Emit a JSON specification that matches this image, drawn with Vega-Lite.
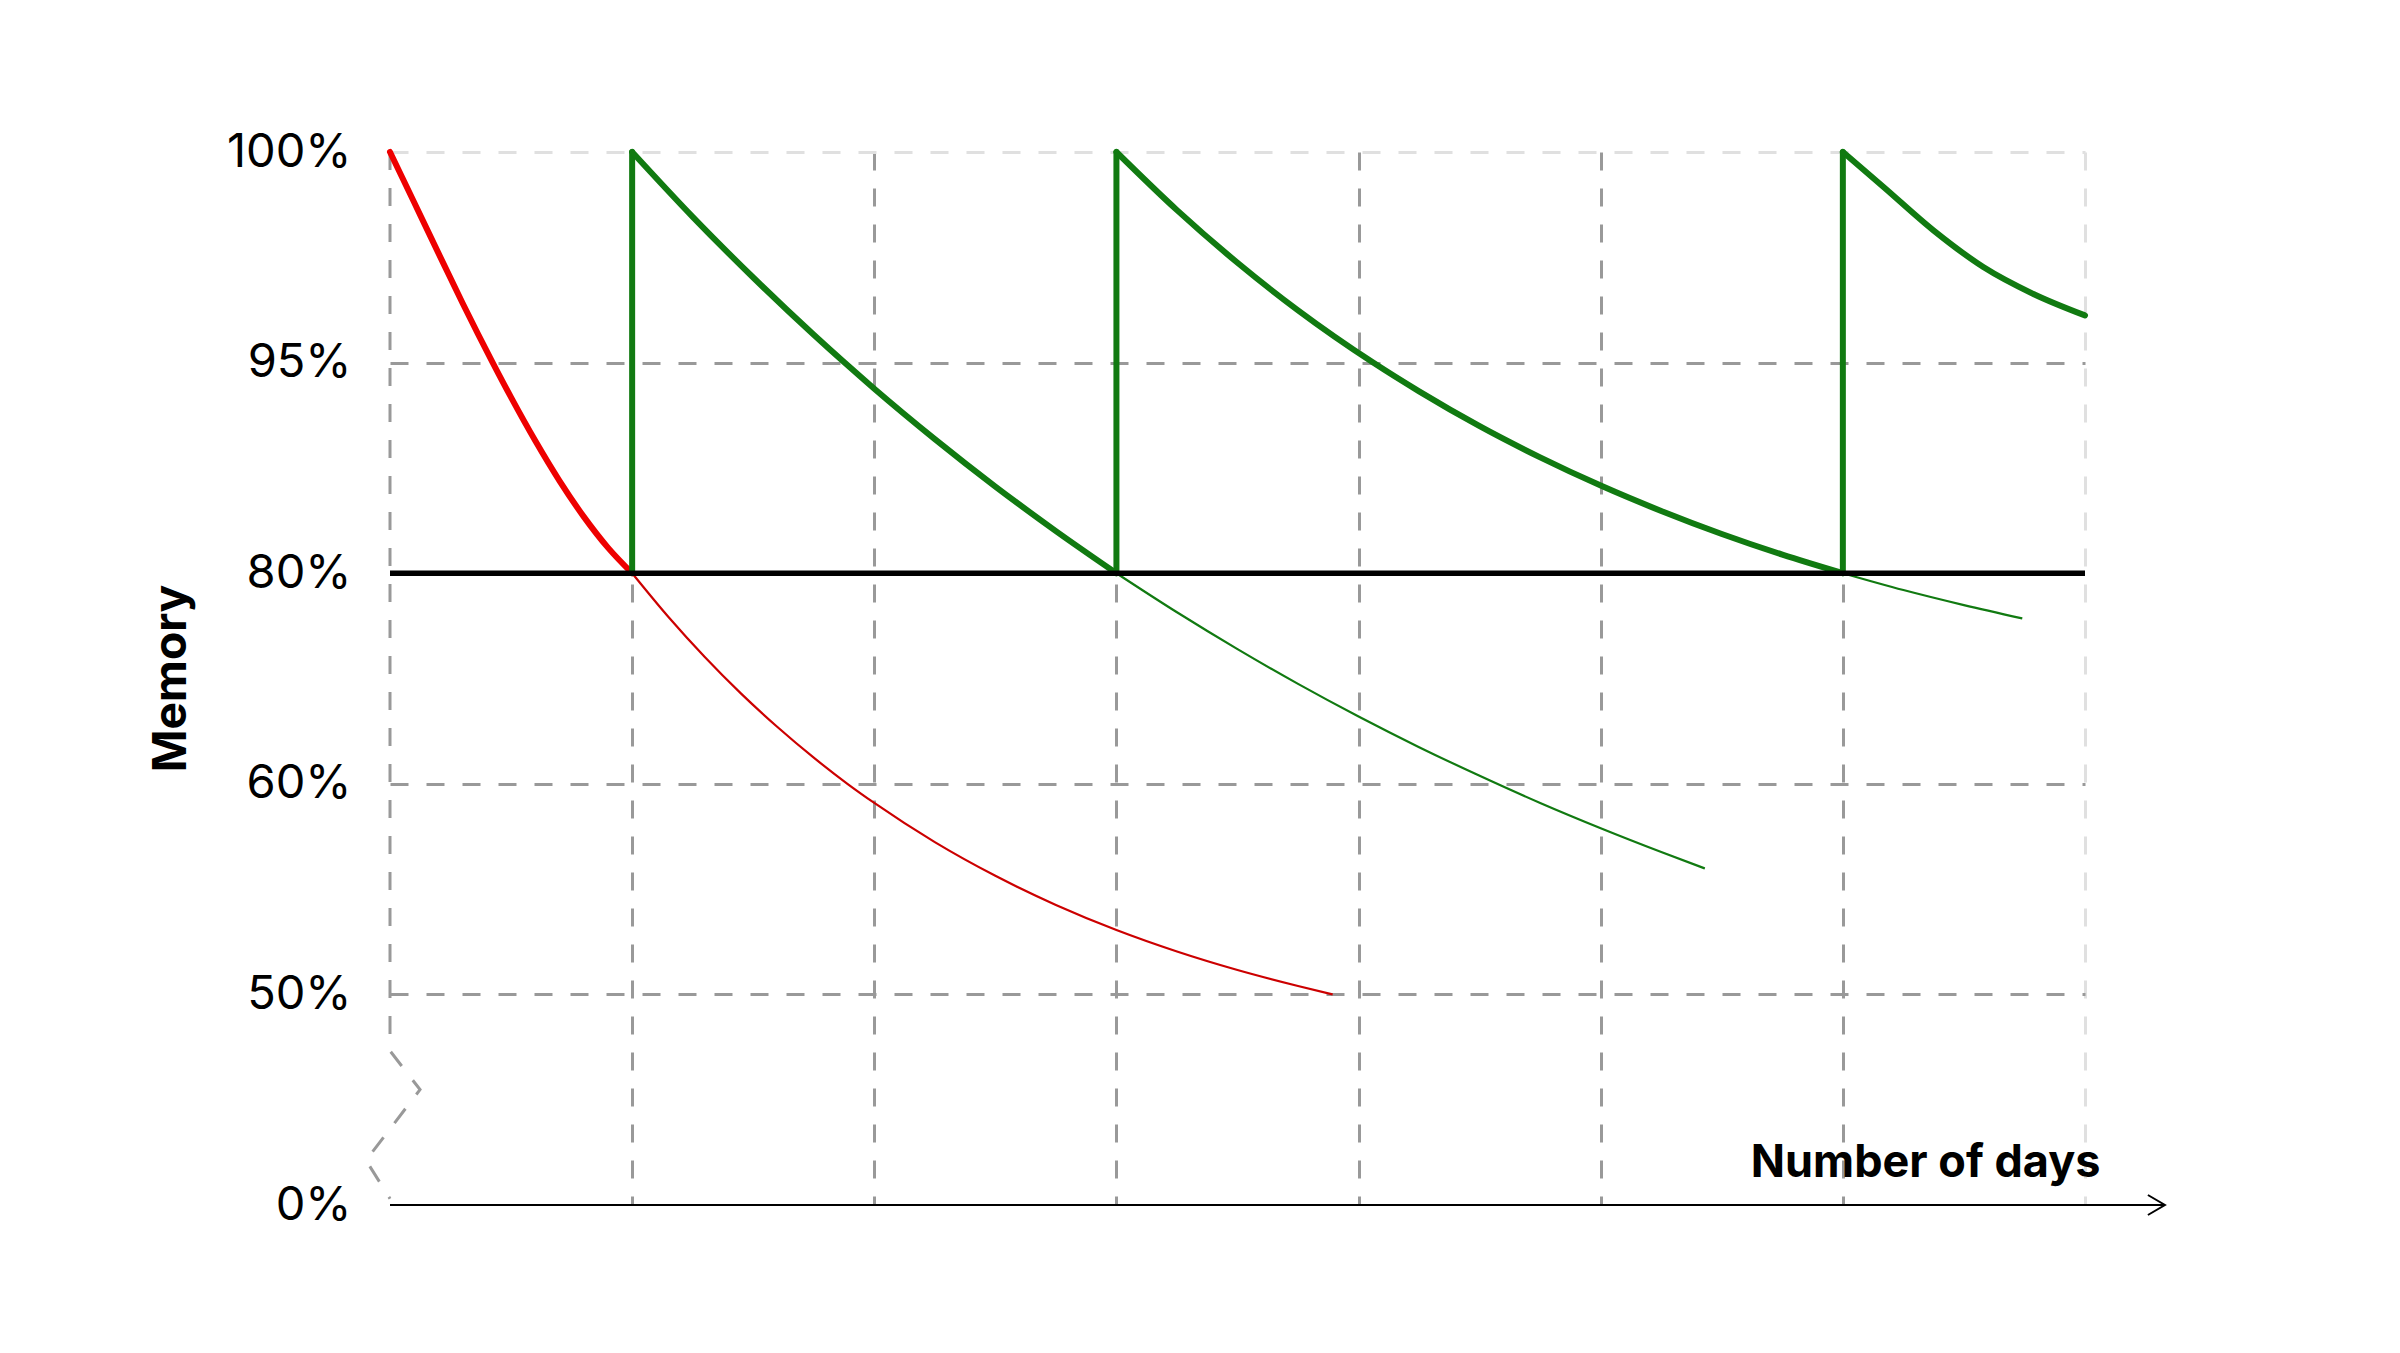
{
  "$schema": "https://vega.github.io/schema/vega-lite/v6.json",
  "width": 1695,
  "height": 1053,
  "autosize": {"type": "none"},
  "padding": {"left": 390, "top": 152, "right": 315, "bottom": 148},
  "background": "white",
  "config": {"view": {"stroke": null}},
  "datasets": {
    "curves": [
      {"path": "no-review", "step": 1, "day": 0, "memory": 100},
      {"path": "no-review", "step": 2, "day": 0.1, "memory": 98.8},
      {"path": "no-review", "step": 3, "day": 0.2, "memory": 97.6},
      {"path": "no-review", "step": 4, "day": 0.3, "memory": 96.41},
      {"path": "no-review", "step": 5, "day": 0.424, "memory": 95},
      {"path": "no-review", "step": 6, "day": 0.5, "memory": 92.52},
      {"path": "no-review", "step": 7, "day": 0.6, "memory": 89.43},
      {"path": "no-review", "step": 8, "day": 0.7, "memory": 86.58},
      {"path": "no-review", "step": 9, "day": 0.8, "memory": 84.03},
      {"path": "no-review", "step": 10, "day": 0.9, "memory": 81.82},
      {"path": "no-review", "step": 11, "day": 1, "memory": 80},
      {"path": "no-review-tail", "step": 1, "day": 1, "memory": 80},
      {"path": "no-review-tail", "step": 2, "day": 1.15, "memory": 75.84},
      {"path": "no-review-tail", "step": 3, "day": 1.3, "memory": 72.04},
      {"path": "no-review-tail", "step": 4, "day": 1.45, "memory": 68.56},
      {"path": "no-review-tail", "step": 5, "day": 1.6, "memory": 65.39},
      {"path": "no-review-tail", "step": 6, "day": 1.75, "memory": 62.48},
      {"path": "no-review-tail", "step": 7, "day": 1.889, "memory": 60},
      {"path": "no-review-tail", "step": 8, "day": 2.0, "memory": 59.09},
      {"path": "no-review-tail", "step": 9, "day": 2.25, "memory": 57.23},
      {"path": "no-review-tail", "step": 10, "day": 2.5, "memory": 55.63},
      {"path": "no-review-tail", "step": 11, "day": 2.75, "memory": 54.25},
      {"path": "no-review-tail", "step": 12, "day": 3.0, "memory": 53.06},
      {"path": "no-review-tail", "step": 13, "day": 3.25, "memory": 52.04},
      {"path": "no-review-tail", "step": 14, "day": 3.5, "memory": 51.16},
      {"path": "no-review-tail", "step": 15, "day": 3.75, "memory": 50.4},
      {"path": "no-review-tail", "step": 16, "day": 3.893, "memory": 50},
      {"path": "review-1", "step": 1, "day": 1, "memory": 100},
      {"path": "review-1", "step": 2, "day": 1.25, "memory": 98.46},
      {"path": "review-1", "step": 3, "day": 1.5, "memory": 97.02},
      {"path": "review-1", "step": 4, "day": 1.75, "memory": 95.66},
      {"path": "review-1", "step": 5, "day": 1.877, "memory": 95},
      {"path": "review-1", "step": 6, "day": 2.0, "memory": 93.14},
      {"path": "review-1", "step": 7, "day": 2.25, "memory": 89.55},
      {"path": "review-1", "step": 8, "day": 2.5, "memory": 86.17},
      {"path": "review-1", "step": 9, "day": 2.75, "memory": 83.0},
      {"path": "review-1", "step": 10, "day": 3, "memory": 80},
      {"path": "review-2", "step": 1, "day": 3, "memory": 100},
      {"path": "review-2", "step": 2, "day": 3.25, "memory": 98.62},
      {"path": "review-2", "step": 3, "day": 3.5, "memory": 97.37},
      {"path": "review-2", "step": 4, "day": 3.75, "memory": 96.24},
      {"path": "review-2", "step": 5, "day": 4.06, "memory": 95},
      {"path": "review-2", "step": 6, "day": 4.25, "memory": 92.95},
      {"path": "review-2", "step": 7, "day": 4.5, "memory": 90.47},
      {"path": "review-2", "step": 8, "day": 4.75, "memory": 88.25},
      {"path": "review-2", "step": 9, "day": 5.0, "memory": 86.24},
      {"path": "review-2", "step": 10, "day": 5.25, "memory": 84.43},
      {"path": "review-2", "step": 11, "day": 5.5, "memory": 82.79},
      {"path": "review-2", "step": 12, "day": 5.75, "memory": 81.32},
      {"path": "review-2", "step": 13, "day": 6, "memory": 80},
      {"path": "review-3", "step": 1, "day": 6, "memory": 100},
      {"path": "review-3", "step": 2, "day": 6.168, "memory": 99.17},
      {"path": "review-3", "step": 3, "day": 6.374, "memory": 98.14},
      {"path": "review-3", "step": 4, "day": 6.58, "memory": 97.27},
      {"path": "review-3", "step": 5, "day": 6.787, "memory": 96.63},
      {"path": "review-3", "step": 6, "day": 7, "memory": 96.12},
      {"path": "review-tail-1", "step": 1, "day": 3, "memory": 80},
      {"path": "review-tail-1", "step": 2, "day": 3.25, "memory": 76.29},
      {"path": "review-tail-1", "step": 3, "day": 3.5, "memory": 72.79},
      {"path": "review-tail-1", "step": 4, "day": 3.75, "memory": 69.49},
      {"path": "review-tail-1", "step": 5, "day": 4.0, "memory": 66.39},
      {"path": "review-tail-1", "step": 6, "day": 4.25, "memory": 63.48},
      {"path": "review-tail-1", "step": 7, "day": 4.5, "memory": 60.76},
      {"path": "review-tail-1", "step": 8, "day": 4.75, "memory": 59.09},
      {"path": "review-tail-1", "step": 9, "day": 5.0, "memory": 57.89},
      {"path": "review-tail-1", "step": 10, "day": 5.25, "memory": 56.76},
      {"path": "review-tail-1", "step": 11, "day": 5.43, "memory": 55.98},
      {"path": "review-tail-2", "step": 1, "day": 6, "memory": 80},
      {"path": "review-tail-2", "step": 2, "day": 6.25, "memory": 78.4},
      {"path": "review-tail-2", "step": 3, "day": 6.5, "memory": 76.97},
      {"path": "review-tail-2", "step": 4, "day": 6.741, "memory": 75.71}
    ],
    "reviews": [
      {"day": 1, "memory": 80, "memory_end": 100},
      {"day": 3, "memory": 80, "memory_end": 100},
      {"day": 6, "memory": 80, "memory_end": 100}
    ],
    "axisBreak": [
      {"step": 1, "day": 0, "memory": 100},
      {"step": 2, "day": 0, "memory": 36.6},
      {"step": 3, "day": 0.124, "memory": 27.4},
      {"step": 4, "day": -0.099, "memory": 10.6},
      {"step": 5, "day": 0, "memory": 1.5}
    ],
    "guides": [
      {"name": "threshold", "day": 0, "day_end": 7, "memory": 80},
      {"name": "x-axis", "day": 0, "day_end": 7.33, "memory": 0},
      {"name": "arrow", "day": 7.33, "memory": 0}
    ]
  },
  "encoding": {
    "x": {
      "field": "day",
      "type": "quantitative",
      "scale": {"domain": [0, 7], "nice": false, "zero": false},
      "axis": {
        "values": [0, 1, 2, 3, 4, 5, 6, 7],
        "labels": false,
        "ticks": false,
        "domain": false,
        "grid": true,
        "gridDash": [18, 18],
        "gridWidth": 3,
        "gridColor": {"condition": {"test": "datum.value === 7", "value": "#e0e0e0"}, "value": "#999999"},
        "gridOpacity": {"condition": {"test": "datum.value === 0", "value": 0}, "value": 1},
        "title": "Number of days",
        "titleFont": "Inter",
        "titleFontSize": 45,
        "titleFontWeight": "bold",
        "titleColor": "#000000",
        "titleAlign": "right",
        "titleBaseline": "alphabetic",
        "titleX": 1710,
        "titleY": -29
      }
    },
    "y": {
      "field": "memory",
      "type": "quantitative",
      "scale": {
        "domain": [0, 50, 60, 80, 95, 100],
        "range": [1053, 842.4, 631.8, 421.2, 210.6, 0],
        "nice": false,
        "zero": false
      },
      "axis": {
        "values": [0, 50, 60, 80, 95, 100],
        "labelExpr": "datum.value + '%'",
        "ticks": false,
        "domain": false,
        "labelPadding": 39,
        "labelFont": "Inter",
        "labelFontSize": 47,
        "labelColor": "#000000",
        "grid": true,
        "gridDash": [18, 18],
        "gridWidth": 3,
        "gridColor": {"condition": {"test": "datum.value === 100", "value": "#e0e0e0"}, "value": "#999999"},
        "gridOpacity": {"condition": {"test": "datum.value === 0 || datum.value === 80", "value": 0}, "value": 1},
        "title": "Memory",
        "titleFont": "Inter",
        "titleFontSize": 46,
        "titleFontWeight": "bold",
        "titleColor": "#000000",
        "titleAngle": 270,
        "titleAlign": "center",
        "titleBaseline": "middle",
        "titleX": -219,
        "titleY": 526
      }
    }
  },
  "layer": [
    {
      "data": {"name": "axisBreak"},
      "mark": {"type": "line", "color": "#999999", "strokeWidth": 3, "strokeDash": [18, 18], "clip": false},
      "encoding": {"order": {"field": "step", "type": "quantitative"}}
    },
    {
      "data": {"name": "curves"},
      "transform": [{"filter": "datum.path === 'no-review-tail'"}],
      "mark": {"type": "line", "color": "#cc0000", "strokeWidth": 2.2, "interpolate": "monotone"},
      "encoding": {"order": {"field": "step", "type": "quantitative"}}
    },
    {
      "data": {"name": "curves"},
      "transform": [{"filter": "datum.path === 'review-tail-1' || datum.path === 'review-tail-2'"}],
      "mark": {"type": "line", "color": "#117a11", "strokeWidth": 2.2, "interpolate": "monotone"},
      "encoding": {"detail": {"field": "path", "type": "nominal"}, "order": {"field": "step", "type": "quantitative"}}
    },
    {
      "data": {"name": "curves"},
      "transform": [{"filter": "datum.path === 'no-review'"}],
      "mark": {"type": "line", "color": "#ee0000", "strokeWidth": 6, "strokeCap": "round", "interpolate": "monotone"},
      "encoding": {"order": {"field": "step", "type": "quantitative"}}
    },
    {
      "data": {"name": "reviews"},
      "mark": {"type": "rule", "color": "#117a11", "strokeWidth": 6, "strokeCap": "round"},
      "encoding": {"y2": {"field": "memory_end"}}
    },
    {
      "data": {"name": "curves"},
      "transform": [{"filter": "datum.path === 'review-1' || datum.path === 'review-2' || datum.path === 'review-3'"}],
      "mark": {"type": "line", "color": "#117a11", "strokeWidth": 6, "strokeCap": "round", "interpolate": "monotone"},
      "encoding": {"detail": {"field": "path", "type": "nominal"}, "order": {"field": "step", "type": "quantitative"}}
    },
    {
      "data": {"name": "guides"},
      "transform": [{"filter": "datum.name === 'threshold'"}],
      "mark": {"type": "rule", "color": "#000000", "strokeWidth": 5.5},
      "encoding": {"x2": {"field": "day_end"}}
    },
    {
      "data": {"name": "guides"},
      "transform": [{"filter": "datum.name === 'x-axis'"}],
      "mark": {"type": "rule", "color": "#000000", "strokeWidth": 2, "clip": false},
      "encoding": {"x2": {"field": "day_end"}}
    },
    {
      "data": {"name": "guides"},
      "transform": [{"filter": "datum.name === 'arrow'"}],
      "mark": {"type": "point", "shape": "M-1.7,-1L0,0L-1.7,1", "filled": false, "color": "#000000", "strokeWidth": 2, "size": 400, "opacity": 1, "clip": false},
      "encoding": {}
    }
  ]
}
